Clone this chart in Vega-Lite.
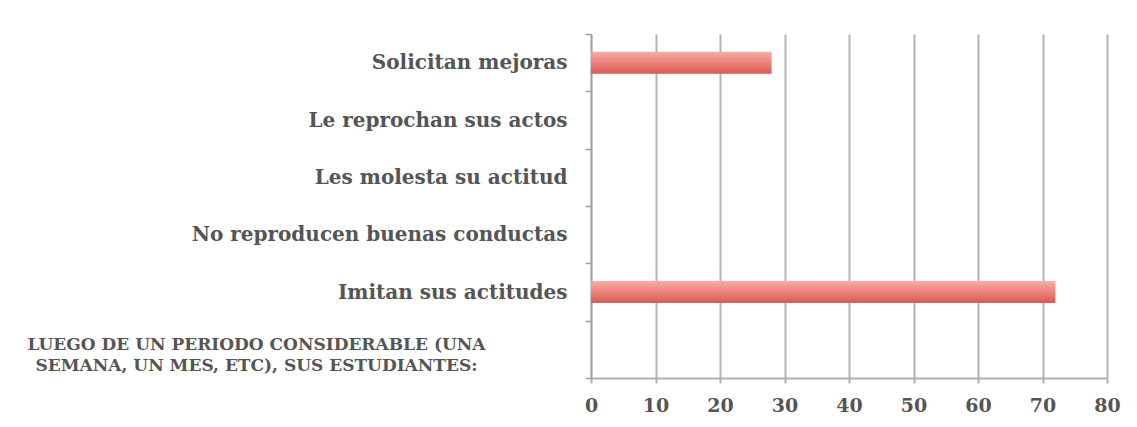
{
  "$schema": "https://vega.github.io/schema/vega-lite/v6.json",
  "autosize": {"type": "none"},
  "width": 516,
  "height": 344,
  "padding": {"left": 591, "top": 34, "right": 30, "bottom": 49},
  "background": "white",
  "config": {
    "view": {"stroke": null},
    "axis": {
      "labelFont": "DejaVu Serif",
      "labelFontWeight": "bold",
      "labelFontSize": 19,
      "labelColor": "#555555"
    }
  },
  "data": {
    "values": [
      {"categoria": "Solicitan mejoras", "valor": 28},
      {"categoria": "Le reprochan sus actos", "valor": 0},
      {"categoria": "Les molesta su actitud", "valor": 0},
      {"categoria": "No reproducen buenas conductas", "valor": 0},
      {"categoria": "Imitan sus actitudes", "valor": 72},
      {"categoria": "LUEGO DE UN PERIODO CONSIDERABLE (UNA\nSEMANA, UN MES, ETC), SUS ESTUDIANTES:", "valor": 0}
    ]
  },
  "encoding": {
    "x": {
      "field": "valor",
      "type": "quantitative",
      "scale": {"domain": [0, 80], "nice": false},
      "axis": {
        "title": null,
        "values": [0, 10, 20, 30, 40, 50, 60, 70, 80],
        "grid": true,
        "gridColor": "#b4b4b4",
        "gridWidth": 2,
        "domainColor": "#b0b0b0",
        "domainWidth": 2,
        "tickColor": "#b0b0b0",
        "tickWidth": 2,
        "tickSize": 5,
        "labelPadding": 13,
        "labelFlush": false
      }
    }
  },
  "layer": [
    {
      "mark": {
        "type": "bar",
        "height": {"band": 0.385},
        "color": {
          "gradient": "linear",
          "x1": 0, "y1": 0, "x2": 0, "y2": 1,
          "stops": [
            {"offset": 0, "color": "#f7aca8"},
            {"offset": 0.5, "color": "#ee817c"},
            {"offset": 1, "color": "#d85b56"}
          ]
        }
      },
      "encoding": {
        "y": {
          "field": "categoria",
          "type": "nominal",
          "sort": null,
          "scale": {"paddingInner": 0, "paddingOuter": 0},
          "axis": {
            "title": null,
            "orient": "left",
            "tickBand": "extent",
            "domainColor": "#a0a0a0",
            "domainWidth": 1.5,
            "tickColor": "#a0a0a0",
            "tickWidth": 1.5,
            "tickSize": 6,
            "labelPadding": 18,
            "labelFontSize": 20,
            "labelLimit": 0,
            "labelExpr": "indexof(datum.label, 'LUEGO') == 0 ? '' : datum.label"
          }
        }
      }
    },
    {
      "mark": {"type": "bar", "height": {"band": 0.385}, "opacity": 0},
      "encoding": {
        "y": {
          "field": "categoria",
          "type": "nominal",
          "sort": null,
          "axis": {
            "title": null,
            "orient": "left",
            "domain": false,
            "ticks": false,
            "grid": false,
            "labelAlign": "center",
            "labelPadding": 335,
            "labelOffset": -4,
            "labelFontSize": 17,
            "labelLineHeight": 21,
            "labelLimit": 0,
            "labelExpr": "indexof(datum.label, 'LUEGO') == 0 ? split(datum.label, '\\n') : ''"
          }
        }
      }
    }
  ],
  "resolve": {"axis": {"y": "independent"}}
}
